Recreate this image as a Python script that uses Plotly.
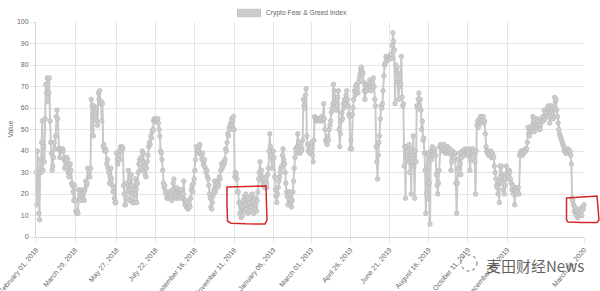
import plotly.graph_objects as go
import pandas as pd

# ---- data: Crypto Fear & Greed Index, one array per tick interval ----
seg_starts = ["2018-02-01", "2018-03-29", "2018-05-27", "2018-07-22", "2018-09-16",
              "2018-11-11", "2019-01-06", "2019-03-01", "2019-04-26", "2019-06-21",
              "2019-08-16", "2019-10-11", "2019-12-06"]
seg_end = "2020-03-26"

fng_a = [30, 15, 40, 24, 11, 8, 36, 30, 44, 54, 31, 42, 35, 55, 71, 67, 74, 63, 67, 74, 54, 44, 39, 31, 33, 37, 44, 41,
         47, 56, 59, 55, 41, 41, 37, 40, 41, 40, 41, 40, 36, 32, 37, 33, 37, 36, 30, 28, 30, 34, 31, 25, 24, 21, 17, 24]
fng_b = [17, 12, 11, 12, 11, 22, 18, 20, 17, 22, 20, 18, 21, 17, 22, 26, 24, 25, 32, 28, 30, 28, 32, 64, 61, 56, 47, 61,
         58, 56, 60, 54, 52, 67, 64, 68, 62, 63, 54, 62, 42, 43, 40, 41, 40, 34, 36, 32, 30, 25, 28, 32, 27, 24, 21, 23,
         18, 16, 16]
fng_c = [39, 36, 34, 38, 40, 36, 42, 40, 42, 41, 24, 20, 15, 15, 18, 25, 21, 31, 26, 17, 22, 29, 24, 16, 22, 16, 20, 27,
         22, 16, 25, 30, 34, 36, 34, 37, 31, 40, 39, 35, 33, 29, 28, 32, 35, 38, 42, 44, 43, 47, 46, 49, 50, 54, 55, 54]
fng_d = [54, 55, 54, 55, 53, 50, 47, 40, 39, 36, 31, 25, 23, 24, 21, 20, 18, 19, 21, 18, 20, 19, 21, 17, 22, 25, 27, 19,
         20, 18, 23, 21, 19, 18, 21, 22, 19, 22, 18, 20, 26, 17, 15, 17, 14, 16, 13, 14, 15, 14, 18, 22, 24, 21, 25, 27]
fng_e = [31, 36, 42, 40, 39, 40, 42, 43, 39, 38, 36, 39, 34, 33, 36, 32, 30, 31, 28, 27, 24, 20, 18, 14, 13, 16, 19, 22,
         26, 21, 24, 26, 23, 25, 24, 28, 27, 31, 34, 32, 33, 35, 34, 36, 41, 40, 44, 48, 47, 51, 50, 53, 52, 55, 54, 56]
fng_f = [50, 28, 30, 29, 27, 21, 21, 16, 11, 15, 9, 14, 10, 17, 12, 19, 15, 20, 13, 17, 11, 16, 18, 12, 19, 14, 20, 16,
         11, 18, 13, 15, 12, 17, 21, 27, 30, 35, 29, 31, 26, 28, 24, 27, 23, 26, 25, 23, 29, 32, 40, 48, 42, 38, 32, 36]
fng_g = [40, 37, 28, 22, 19, 16, 20, 23, 26, 28, 30, 32, 33, 38, 41, 36, 34, 30, 25, 21, 19, 15, 20, 21, 20, 16, 14, 17,
         21, 26, 32, 37, 41, 39, 42, 48, 44, 42, 39, 42, 40, 41, 45, 64, 61, 60, 66, 69, 47, 43, 40, 42, 39, 41]
fng_h = [42, 44, 38, 35, 45, 56, 55, 54, 55, 55, 54, 55, 55, 54, 55, 56, 54, 55, 62, 55, 50, 45, 44, 43, 47, 45, 50, 52,
         54, 58, 60, 62, 71, 68, 65, 62, 59, 61, 65, 68, 50, 42, 48, 54, 58, 55, 62, 60, 64, 62, 66, 68, 64, 61, 57, 56]
fng_i = [41, 45, 41, 57, 60, 64, 68, 66, 70, 71, 69, 67, 72, 74, 76, 78, 79, 77, 76, 72, 68, 64, 68, 71, 68, 69, 71, 70,
         73, 70, 68, 70, 72, 74, 70, 64, 61, 42, 35, 27, 38, 44, 47, 55, 61, 60, 62, 68, 75, 80, 81, 84, 83, 82, 84, 83]
fng_j = [84, 83, 85, 83, 89, 95, 91, 87, 62, 80, 78, 79, 72, 64, 70, 76, 71, 84, 65, 61, 62, 33, 42, 18, 42, 38, 40, 35,
         43, 30, 41, 20, 38, 35, 47, 33, 18, 40, 35, 61, 60, 64, 67, 61, 64, 59, 50, 54, 45, 46, 39, 31, 11, 20, 39, 18]
fng_k = [39, 25, 6, 40, 36, 42, 38, 40, 39, 41, 38, 29, 24, 20, 25, 31, 42, 43, 41, 42, 40, 41, 43, 40, 39, 41, 40, 42,
         39, 40, 41, 39, 31, 35, 40, 38, 39, 37, 39, 25, 11, 25, 32, 36, 39, 34, 29, 37, 40, 39, 40, 38, 41, 39, 40, 38]
fng_l = [40, 39, 41, 31, 36, 40, 39, 41, 40, 38, 35, 20, 40, 52, 54, 51, 53, 55, 56, 53, 54, 56, 56, 53, 54, 48, 42, 40,
         39, 40, 38, 39, 38, 40, 37, 39, 38, 37, 33, 30, 27, 24, 23, 20, 26, 16, 33, 28, 33, 25, 29, 22, 20, 24, 29, 33]
fng_m = [29, 27, 28, 31, 30, 27, 25, 22, 24, 20, 22, 15, 21, 23, 20, 21, 23, 20, 38, 39, 40, 39, 38, 40, 39, 40, 41, 40,
         41, 44, 51, 48, 47, 50, 51, 49, 52, 56, 54, 49, 52, 51, 53, 55, 54, 52, 50, 50, 52, 54, 55, 56, 54, 59, 55, 57,
         58, 56, 60, 61, 56, 53, 58, 61, 59, 57, 55, 60, 65, 63, 64, 59, 56, 53, 50, 48, 47, 46, 45, 44, 43, 42, 40, 41,
         39, 40, 39, 41, 40, 39, 40, 38, 34, 18, 17, 15, 12, 14, 11, 10, 12, 9, 11, 10, 13, 11, 12, 10, 14, 13, 15]

segments = [fng_a, fng_b, fng_c, fng_d, fng_e, fng_f, fng_g, fng_h, fng_i, fng_j, fng_k, fng_l, fng_m]

tick_dates = seg_starts + ["2020-03-25"]
tick_labels = ["February 01, 2018", "March 29, 2018", "May 27, 2018", "July 22, 2018",
               "September 16, 2018", "November 11, 2018", "January 06, 2019", "March 01, 2019",
               "April 26, 2019", "June 21, 2019", "August 16, 2019", "October 11, 2019",
               "December 06, 2019", "March 25, 2020"]

# spread each interval's readings over its own date span
dates, values = [], []
bounds = [pd.Timestamp(s) for s in seg_starts] + [pd.Timestamp(seg_end)]
for k, vals in enumerate(segments):
    t0, t1 = bounds[k], bounds[k + 1]
    n = len(vals)
    for i, v in enumerate(vals):
        dates.append(t0 + (t1 - t0) * i / n)
        values.append(v)

GRID = "#e6e6e6"
TXT = "#666666"
FONT = "Liberation Sans, Arial, sans-serif"

fig = go.Figure()
fig.add_trace(go.Scatter(
    x=dates, y=values, mode="lines+markers", name="Crypto Fear & Greed Index",
    line=dict(color="#c9c9c9", width=2),
    marker=dict(size=4.5, color="#cdcdcd", line=dict(color="#bdbdbd", width=0.8)),
    showlegend=False, cliponaxis=False,
))

# plot area in pixels: x 36..584, y 22..237
L, R, T, B = 36, 584, 22, 237
def px(x):
    return (x - L) / (R - L)
def py(y):
    return (B - y) / (B - T)

def path(points):
    s = "M %f,%f" % (px(points[0][0]), py(points[0][1]))
    for p in points[1:]:
        s += " L %f,%f" % (px(p[0]), py(p[1]))
    return s + " Z"

shapes = [
    # legend swatch
    dict(type="rect", xref="paper", yref="paper", x0=px(237.5), x1=px(260.5), y0=py(16.7), y1=py(9.3),
         fillcolor="#cccccc", line=dict(color="#c2c2c2", width=1)),
    # hand-drawn red boxes
    dict(type="path", xref="paper", yref="paper",
         path=path([(227, 187), (246, 186.5), (266, 186), (266.5, 205), (267, 220), (265, 224),
                    (246, 223.8), (231, 223.3), (227.5, 221), (227, 205)]),
         line=dict(color="#d62828", width=1.5)),
    dict(type="path", xref="paper", yref="paper",
         path=path([(566.5, 198), (582, 197), (597, 196), (598, 208), (599, 220), (597, 222.5),
                    (582, 222.5), (568, 222), (566.5, 220), (566.5, 208)]),
         line=dict(color="#d62828", width=1.5)),
    # watermark icon
    dict(type="circle", xref="paper", yref="paper", x0=px(461), x1=px(477), y0=py(271), y1=py(255),
         line=dict(color="rgba(110,110,110,0.8)", width=1.2, dash="dot")),
]

annotations = [
    dict(text="Crypto Fear & Greed Index", xref="paper", yref="paper", x=px(264), y=py(13),
         xanchor="left", yanchor="middle", showarrow=False, font=dict(family=FONT, size=6.7, color=TXT)),
    dict(text="Value", xref="paper", yref="paper", x=px(10), y=py(129.5), textangle=-90,
         xanchor="center", yanchor="middle", showarrow=False, font=dict(family=FONT, size=6.7, color=TXT)),
    dict(text="麦田财经News", xref="paper", yref="paper", x=px(484), y=py(265),
         xanchor="left", yanchor="middle", showarrow=False,
         font=dict(family="Noto Sans CJK SC, sans-serif", size=15, color="rgba(70,70,70,0.85)")),
]

axis_common = dict(showgrid=True, gridcolor=GRID, gridwidth=1, zeroline=False,
                   showline=True, linecolor="#d6d6d6", linewidth=1,
                   ticks="outside", ticklen=5, tickcolor=GRID, automargin=False,
                   ticklabeloverflow="allow",
                   tickfont=dict(family=FONT, size=7, color=TXT))

fig.update_layout(
    template="none",
    width=600, height=291, autosize=False,
    margin=dict(l=L, r=600 - R, t=T, b=291 - B, pad=0),
    paper_bgcolor="white", plot_bgcolor="white",
    font=dict(family=FONT, size=7, color=TXT),
    shapes=shapes, annotations=annotations, showlegend=False,
    xaxis=dict(type="date", range=["2018-02-01", "2020-03-25"],
               tickmode="array", tickvals=tick_dates, ticktext=tick_labels, tickangle=-50,
               **axis_common),
    yaxis=dict(range=[0, 100], tick0=0, dtick=10, tickmode="linear", **axis_common),
)

fig.write_html("out.html")
